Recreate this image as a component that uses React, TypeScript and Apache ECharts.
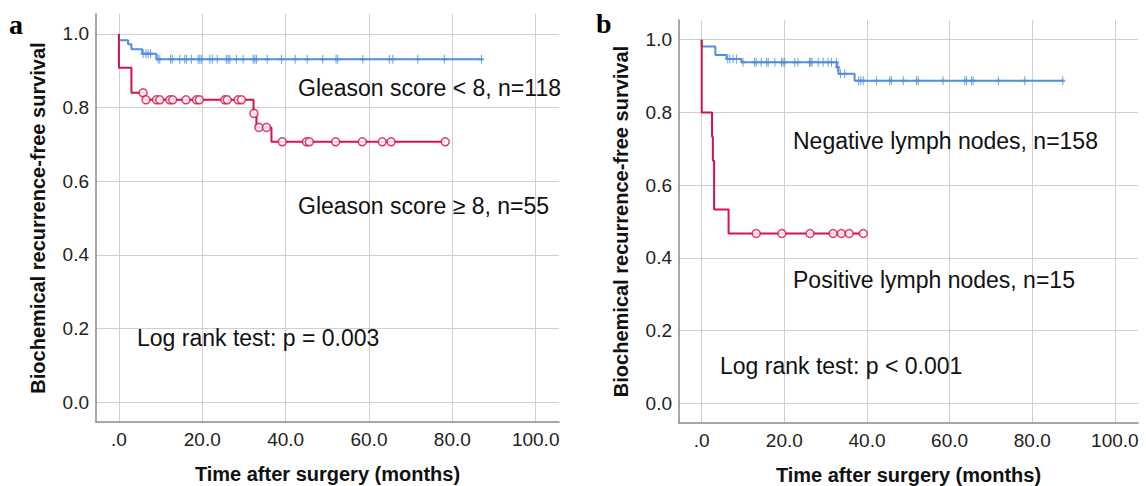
import React, { useEffect, useRef } from "react";
import * as echarts from "echarts";

// ---------- axis ticks ----------
const xTicks = [0, 20, 40, 60, 80, 100];
const yTicks = [0, 0.2, 0.4, 0.6, 0.8, 1.0];

// ---------- panel a: Gleason score ----------
// Kaplan-Meier steps [time, survival]
const aLowSteps: [number, number][] = [
  [0, 1], [0, 0.983], [2.2, 0.972], [3.0, 0.958], [5.6, 0.946], [9.0, 0.931], [87.2, 0.931],
];
const aLowCensor: [number, number][] = [
  [5.8, 0.946], [6.5, 0.946], [7.0, 0.946], [7.6, 0.946],
  [9.4, 0.931], [9.8, 0.931], [12.4, 0.931], [12.8, 0.931], [14.6, 0.931], [15.8, 0.931],
  [16.2, 0.931], [17.4, 0.931], [19.0, 0.931], [19.4, 0.931], [19.8, 0.931], [21.8, 0.931],
  [22.4, 0.931], [23.6, 0.931], [25.8, 0.931], [26.2, 0.931], [26.6, 0.931], [28.2, 0.931],
  [29.8, 0.931], [32.2, 0.931], [32.6, 0.931], [33.0, 0.931], [35.6, 0.931], [39.0, 0.931],
  [42.3, 0.931], [45.2, 0.931], [48.9, 0.931], [52.1, 0.931], [52.5, 0.931], [58.5, 0.931],
  [64.9, 0.931], [65.7, 0.931], [71.7, 0.931], [78.1, 0.931], [87.0, 0.931],
];
const aHighSteps: [number, number][] = [
  [0, 1], [0, 0.908], [3.0, 0.84], [6.0, 0.821], [32.3, 0.784], [33.0, 0.746], [36.6, 0.707], [78.3, 0.707],
];
const aHighCensor: [number, number][] = [
  [5.8, 0.84], [6.5, 0.821], [9.0, 0.821], [9.8, 0.821], [12.2, 0.821], [12.9, 0.821],
  [16.1, 0.821], [18.6, 0.821], [19.3, 0.821], [25.4, 0.821], [26.0, 0.821], [28.6, 0.821],
  [29.4, 0.821], [32.4, 0.784], [33.6, 0.746], [35.4, 0.746], [39.2, 0.707], [45.0, 0.707],
  [45.7, 0.707], [52.0, 0.707], [58.4, 0.707], [63.2, 0.707], [65.3, 0.707], [78.3, 0.707],
];

// ---------- panel b: lymph nodes ----------
const bNegSteps: [number, number][] = [
  [0, 1], [0, 0.981], [3.3, 0.958], [6.0, 0.947], [9.6, 0.938], [32.7, 0.924], [33.1, 0.906],
  [37.0, 0.887], [87.5, 0.887],
];
const bNegCensor: [number, number][] = [
  [6.3, 0.947], [6.8, 0.947], [7.6, 0.947], [8.4, 0.947],
  [10.0, 0.938], [12.8, 0.938], [13.2, 0.938], [14.4, 0.938], [15.7, 0.938], [16.1, 0.938],
  [17.7, 0.938], [19.3, 0.938], [19.7, 0.938], [20.1, 0.938], [22.5, 0.938], [23.3, 0.938],
  [26.1, 0.938], [26.4, 0.938], [26.7, 0.938], [28.2, 0.938], [29.4, 0.938], [30.6, 0.938],
  [31.4, 0.938], [32.6, 0.938], [32.9, 0.924], [33.6, 0.906], [34.6, 0.906],
  [38.0, 0.887], [38.5, 0.887], [39.1, 0.887], [42.3, 0.887], [45.5, 0.887], [45.9, 0.887],
  [48.8, 0.887], [52.0, 0.887], [52.4, 0.887], [58.4, 0.887], [63.7, 0.887], [64.1, 0.887],
  [65.3, 0.887], [65.7, 0.887], [71.8, 0.887], [78.2, 0.887], [87.4, 0.887],
];
const bPosSteps: [number, number][] = [
  [0, 1], [0, 0.8], [2.5, 0.733], [2.7, 0.667], [3.0, 0.533], [6.5, 0.467], [39.1, 0.467],
];
const bPosCensor: [number, number][] = [
  [13.2, 0.467], [19.4, 0.467], [26.2, 0.467], [31.8, 0.467], [33.8, 0.467], [35.7, 0.467], [39.1, 0.467],
];

// ---------- texts ----------
const panelLetters = ["a", "b"];
const aLabels = ["Gleason score < 8, n=118", "Gleason score \u2265 8, n=55", "Log rank test: p = 0.003"];
const bLabels = ["Negative lymph nodes, n=158", "Positive lymph nodes, n=15", "Log rank test: p < 0.001"];
const yTitle = "Biochemical recurrence-free survival";
const xTitle = "Time after surgery (months)";

const BLUE = "#4f8fdd";
const RED = "#d2144a";
const FONT = "'Liberation Sans', Arial, Helvetica, sans-serif";

const plusSymbol = "path://M3,0L3,8M0,4L6,4";

function makeX(gridIndex: number) {
  return {
    type: "value",
    gridIndex,
    min: -5.5,
    max: 105.6,
    name: xTitle,
    nameLocation: "middle",
    nameGap: 42,
    nameTextStyle: { fontFamily: FONT, fontSize: 20, fontWeight: "bold", color: "#111" },
    axisLine: { show: true, onZero: false, lineStyle: { color: "#8a8a8a", width: 1.5 } },
    axisTick: { show: false, customValues: xTicks },
    axisLabel: {
      customValues: xTicks,
      margin: 8,
      fontFamily: FONT,
      fontSize: 19,
      color: "#222",
      formatter: (v: number) => (v === 0 ? ".0" : v.toFixed(1)),
    },
    splitLine: { show: true, lineStyle: { color: "#cfcfcf", width: 1 } },
  };
}

function makeY(gridIndex: number) {
  return {
    type: "value",
    gridIndex,
    min: -0.054,
    max: 1.054,
    name: yTitle,
    nameLocation: "middle",
    nameGap: 48,
    nameTextStyle: { fontFamily: FONT, fontSize: 20, fontWeight: "bold", color: "#111" },
    axisLine: { show: true, onZero: false, lineStyle: { color: "#8a8a8a", width: 1.5 } },
    axisTick: { show: false, customValues: yTicks },
    axisLabel: {
      customValues: yTicks,
      margin: 7,
      fontFamily: FONT,
      fontSize: 19,
      color: "#222",
      formatter: (v: number) => v.toFixed(1),
    },
    splitLine: { show: true, lineStyle: { color: "#cfcfcf", width: 1 } },
  };
}

function stepSeries(data: [number, number][], color: string, idx: number) {
  return {
    type: "line",
    xAxisIndex: idx,
    yAxisIndex: idx,
    step: "end",
    data,
    showSymbol: false,
    symbol: "none",
    lineStyle: { color, width: 2 },
    z: 3,
    silent: true,
  };
}

function plusSeries(data: [number, number][], color: string, idx: number) {
  return {
    type: "scatter",
    xAxisIndex: idx,
    yAxisIndex: idx,
    data,
    symbol: plusSymbol,
    symbolSize: [5, 9],
    itemStyle: { color: "none", borderColor: color, borderWidth: 1.4 },
    z: 4,
    silent: true,
  };
}

function circleSeries(data: [number, number][], color: string, idx: number) {
  return {
    type: "scatter",
    xAxisIndex: idx,
    yAxisIndex: idx,
    data,
    symbol: "circle",
    symbolSize: 8,
    itemStyle: { color: "#ffffff", borderColor: color, borderWidth: 1.5 },
    z: 5,
    silent: true,
  };
}

function txt(text: string, x: number, y: number, size = 23) {
  return {
    type: "text",
    x,
    y,
    z: 10,
    style: {
      text,
      fontFamily: FONT,
      fontSize: size,
      fill: "#111",
      verticalAlign: "middle",
      align: "left",
    },
  };
}

function letter(text: string, x: number, y: number) {
  return {
    type: "text",
    x,
    y,
    z: 10,
    style: {
      text,
      fontFamily: "'Liberation Serif', 'Times New Roman', serif",
      fontSize: 28,
      fontWeight: "bold",
      fill: "#000",
      verticalAlign: "middle",
      align: "left",
    },
  };
}

export default function App() {
  const ref = useRef<HTMLDivElement>(null);
  useEffect(() => {
    if (!ref.current) return;
    const chart = echarts.init(ref.current, undefined, { renderer: "svg" });
    chart.setOption({
      animation: false,
      backgroundColor: "#ffffff",
      grid: [
        { left: 96, top: 14, width: 463, height: 408, outerBoundsMode: "none" },
        { left: 679, top: 20, width: 459, height: 403, outerBoundsMode: "none" },
      ],
      xAxis: [makeX(0), makeX(1)],
      yAxis: [makeY(0), makeY(1)],
      series: [
        stepSeries(aLowSteps, BLUE, 0),
        plusSeries(aLowCensor, BLUE, 0),
        stepSeries(aHighSteps, RED, 0),
        circleSeries(aHighCensor, RED, 0),
        stepSeries(bNegSteps, BLUE, 1),
        plusSeries(bNegCensor, BLUE, 1),
        stepSeries(bPosSteps, RED, 1),
        circleSeries(bPosCensor, RED, 1),
      ],
      graphic: [
        letter(panelLetters[0], 9, 24),
        letter(panelLetters[1], 596, 23),
        txt(aLabels[0], 298, 88),
        txt(aLabels[1], 298, 206),
        txt(aLabels[2], 137, 338),
        txt(bLabels[0], 793, 141),
        txt(bLabels[1], 793, 280),
        txt(bLabels[2], 720, 366),
      ],
    });
    return () => chart.dispose();
  }, []);
  return (
    <div
      ref={ref}
      style={{ position: "fixed", left: 0, top: 0, width: 1146, height: 486, background: "#fff" }}
    />
  );
}
